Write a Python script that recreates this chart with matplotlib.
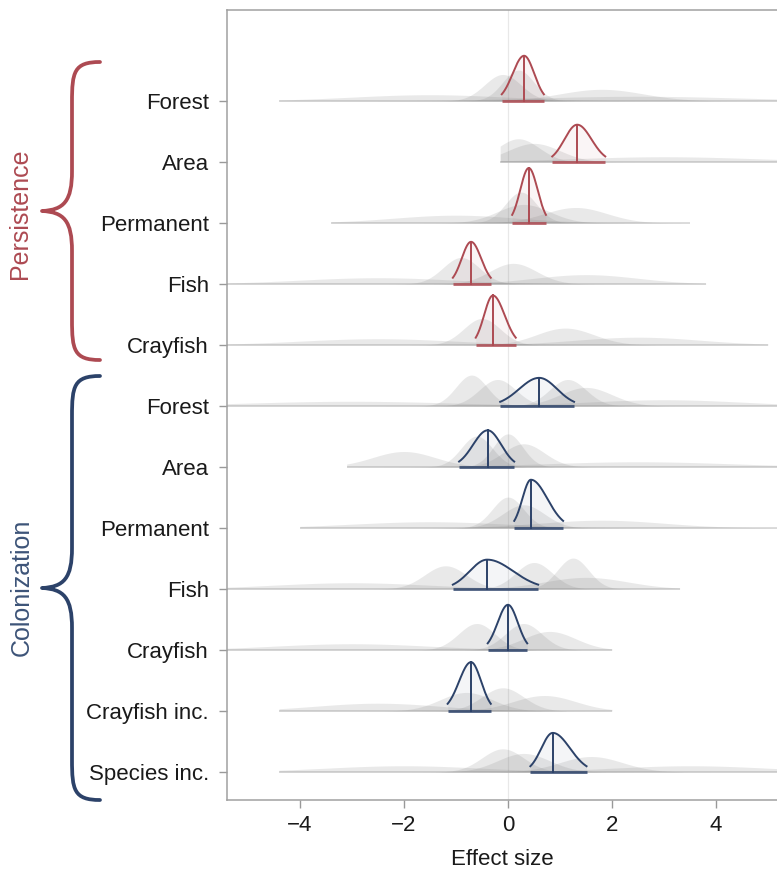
import numpy as np
import matplotlib
matplotlib.use("Agg")
import matplotlib.pyplot as plt
from matplotlib.path import Path
from matplotlib.patches import PathPatch

plt.rcParams['font.family'] = ['Liberation Sans', 'DejaVu Sans']

# ---------------- data ----------------
labels = ["Forest", "Area", "Permanent", "Fish", "Crayfish",
          "Forest", "Area", "Permanent", "Fish", "Crayfish",
          "Crayfish inc.", "Species inc."]
groups = ["Persistence"] * 5 + ["Colonization"] * 7

# community-level posterior: mode, 95% lower, 95% upper, peak height (row units)
comm_mode = [0.31, 1.33, 0.40, -0.71, -0.29, 0.60, -0.39, 0.44, -0.40, 0.00, -0.71, 0.86]
comm_lo   = [-0.12, 0.85, 0.08, -1.06, -0.62, -0.15, -0.94, 0.12, -1.06, -0.39, -1.16, 0.43]
comm_hi   = [0.69, 1.87, 0.73, -0.33, 0.15, 1.27, 0.12, 1.06, 0.58, 0.37, -0.33, 1.51]
comm_peak = [0.74, 0.61, 0.90, 0.69, 0.81, 0.46, 0.60, 0.79, 0.48, 0.74, 0.80, 0.64]

# species-level posteriors (gray): (mean, sd) per row, and visible range of each row
species = [
    [(-0.1, 0.35), (0.2, 0.3), (1.8, 0.8), (-1.5, 1.5), (2.5, 2.0)],
    [(0.5, 0.5), (0.2, 0.4), (3.0, 1.8)],
    [(0.25, 0.3), (1.3, 0.6), (-1.0, 1.2), (0.3, 0.5)],
    [(-0.9, 0.35), (0.1, 0.45), (1.5, 1.0), (-2.5, 1.5)],
    [(-0.5, 0.35), (1.1, 0.55), (-2.5, 1.5), (2.5, 1.2)],
    [(-0.7, 0.3), (-0.2, 0.35), (1.15, 0.35), (1.5, 0.5), (-3.0, 2.0), (3.0, 1.5)],
    [(-2.0, 0.6), (-0.6, 0.3), (0.0, 0.28), (0.3, 0.4), (2.5, 1.8)],
    [(0.0, 0.3), (0.3, 0.4), (1.8, 1.2), (-1.5, 1.5)],
    [(-1.2, 0.4), (0.5, 0.35), (1.25, 0.3), (-3.0, 1.5), (1.5, 0.8)],
    [(-0.6, 0.35), (0.3, 0.35), (0.8, 0.5), (-3.0, 1.5)],
    [(-0.1, 0.4), (-0.8, 0.5), (0.7, 0.6), (-2.5, 1.2)],
    [(-0.1, 0.4), (0.3, 0.5), (1.6, 0.6), (3.5, 1.5), (-2.0, 1.5)],
]
gray_lo = [-4.4, -0.15, -3.4, -5.4, -5.4, -5.4, -3.1, -4.0, -5.4, -5.4, -4.4, -4.4]
gray_hi = [5.3, 5.3, 3.5, 3.8, 5.0, 5.3, 5.3, 5.3, 3.3, 2.0, 2.0, 5.3]

xticks = [-4, -2, 0, 2, 4]

# ---------------- style ----------------
RED = "#ad4a52"
BLUE = "#2c4269"
gcolor = {"Persistence": RED, "Colonization": BLUE}
W, H = 777, 875
DENS_SCALE = 0.38

fig = plt.figure(figsize=(W / 100, H / 100), dpi=100)
ax = fig.add_axes([227 / W, 1 - 800 / H, 1 - 227 / W + 0.002, (800 - 10) / H])

n = len(labels)
ypos = np.arange(n)[::-1]  # top row has largest y
ax.set_xlim(-5.4, 5.2)
ax.set_ylim(-0.46, n - 1 + 1.49)

ax.axvline(0, color="#e8e8e8", lw=0.9, zorder=0)

for i in range(n):
    y0 = ypos[i]
    lo, hi = gray_lo[i], gray_hi[i]
    xs = np.linspace(lo, hi, 600)
    ax.plot([lo, hi], [y0, y0], color="#cfcfcf", lw=1.3, alpha=0.8, zorder=1,
            solid_capstyle="butt")
    for mu, sd in species[i]:
        d = DENS_SCALE * np.exp(-0.5 * ((xs - mu) / sd) ** 2) / (sd * np.sqrt(2 * np.pi))
        ax.fill_between(xs, y0, y0 + d, color="#7d7d7d", alpha=0.17, lw=0, zorder=2)

    c = gcolor[groups[i]]
    m, a, b, pk = comm_mode[i], comm_lo[i], comm_hi[i], comm_peak[i]
    sL, sR = (m - a) / 1.96, (b - m) / 1.96
    xc = np.linspace(a, b, 300)
    sdv = np.where(xc < m, sL, sR)
    yc = pk * np.exp(-0.5 * ((xc - m) / sdv) ** 2)
    ax.fill_between(xc, y0, y0 + yc, color=c, alpha=0.05, lw=0, zorder=3)
    ax.plot(xc, y0 + yc, color=c, lw=1.4, zorder=4)
    ax.plot([m, m], [y0, y0 + pk], color=c, lw=1.4, zorder=4)
    ax.plot([a, b], [y0, y0], color=c, lw=2.0, alpha=0.85, zorder=4,
            solid_capstyle="butt")

ax.set_yticks(ypos)
ax.set_yticklabels(labels, fontsize=16, color="#1a1a1a")
ax.set_xticks(xticks)
ax.set_xticklabels([f"{t}".replace("-", "\u2212") for t in xticks], fontsize=16, color="#1a1a1a")
ax.tick_params(axis="both", length=6, width=1, color="#999999", pad=5)
ax.tick_params(axis="y", pad=7)
ax.set_xlabel("Effect size", fontsize=16, color="#1a1a1a", labelpad=9)
for s in ["left", "bottom", "top"]:
    ax.spines[s].set_color("#a0a0a0")
    ax.spines[s].set_linewidth(1.1)
ax.spines["right"].set_visible(False)


# ---------------- braces ----------------
def brace(yt, yb, color, xr=100, xm=72, xt=42, r=40):
    ym = (yt + yb) / 2
    pts = [
        (xr, yt), (xm + 2, yt), (xm, yt + 10), (xm, yt + r),
        (xm, ym - r),
        (xm, ym - 10), (xm - 8, ym - 1), (xt, ym),
        (xm - 8, ym + 1), (xm, ym + 10), (xm, ym + r),
        (xm, yb - r),
        (xm, yb - 10), (xm + 2, yb), (xr, yb),
    ]
    codes = [Path.MOVETO, Path.CURVE4, Path.CURVE4, Path.CURVE4,
             Path.LINETO,
             Path.CURVE4, Path.CURVE4, Path.CURVE4,
             Path.CURVE4, Path.CURVE4, Path.CURVE4,
             Path.LINETO,
             Path.CURVE4, Path.CURVE4, Path.CURVE4]
    verts = [(x / W, 1 - y / H) for x, y in pts]
    p = PathPatch(Path(verts, codes), transform=fig.transFigure, fill=False,
                  edgecolor=color, lw=2.7, capstyle="round", joinstyle="round")
    fig.patches.append(p)


brace(62, 360, RED)
brace(376, 800, BLUE)
fig.text(20 / W, 1 - 214 / H, "Persistence", rotation=90, fontsize=18, color=RED,
         ha="center", va="center")
fig.text(22 / W, 1 - 587 / H, "Colonization", rotation=90, fontsize=18, color="#3d5478",
         ha="center", va="center")

fig.savefig("out.png", dpi=100)
